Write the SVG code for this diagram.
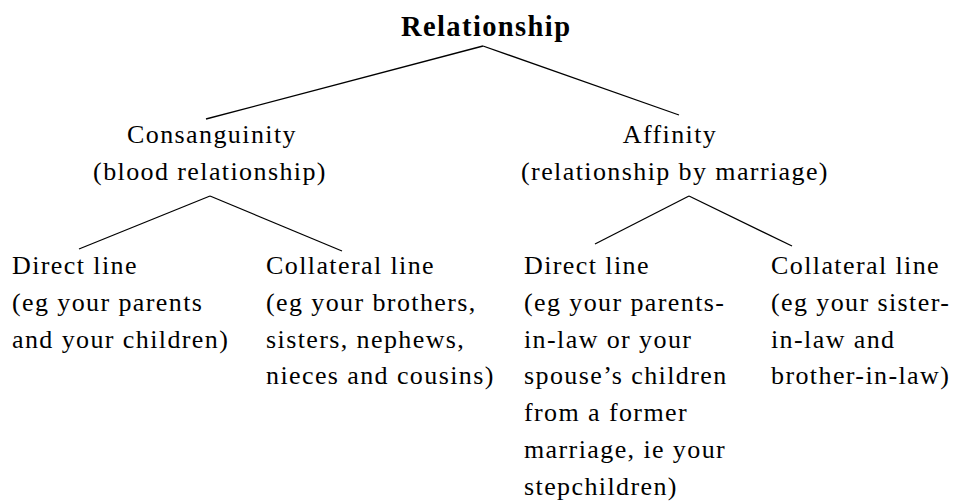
<svg xmlns="http://www.w3.org/2000/svg" width="954" height="502" viewBox="0 0 954 502">
<style>
text { font-family: "Liberation Serif", "Times New Roman", serif; font-size: 26px; letter-spacing: 1.4px; fill: #000; }
.title { font-size: 28.5px; font-weight: bold; }
.mid { text-anchor: middle; }
.conn line { stroke: #000; stroke-width: 1.3; fill: none; }
</style>
<rect width="954" height="502" fill="#fff"/>
<g class="conn" id="connectors">
<line x1="483" y1="46" x2="206" y2="119"/>
<line x1="483" y1="46" x2="679" y2="115"/>
<line x1="210" y1="196" x2="79" y2="249"/>
<line x1="210" y1="196" x2="342" y2="251"/>
<line x1="689" y1="196" x2="595" y2="244"/>
<line x1="689" y1="196" x2="792" y2="246"/>
</g>
<g id="relationship">
<text class="title" x="401" y="36">Relationship</text>
</g>
<g id="consanguinity">
<text class="mid" x="212" y="143">Consanguinity</text>
<text class="mid" x="210" y="180">(blood relationship)</text>
</g>
<g id="affinity">
<text class="mid" x="670" y="143">Affinity</text>
<text class="mid" x="675" y="180">(relationship by marriage)</text>
</g>
<g id="cons-direct">
<text x="12" y="274">Direct line</text>
<text x="12" y="310.8">(eg your parents</text>
<text x="12" y="347.6">and your children)</text>
</g>
<g id="cons-collateral">
<text x="266" y="274">Collateral line</text>
<text x="266" y="310.8">(eg your brothers,</text>
<text x="266" y="347.6">sisters, nephews,</text>
<text x="266" y="384.4">nieces and cousins)</text>
</g>
<g id="aff-direct">
<text x="524" y="274">Direct line</text>
<text x="524" y="310.8">(eg your parents-</text>
<text x="524" y="347.6">in-law or your</text>
<text x="524" y="384.4">spouse’s children</text>
<text x="524" y="421.2">from a former</text>
<text x="524" y="458">marriage, ie your</text>
<text x="524" y="494.5">stepchildren)</text>
</g>
<g id="aff-collateral">
<text x="771" y="274">Collateral line</text>
<text x="771" y="310.8">(eg your sister-</text>
<text x="771" y="347.6">in-law and</text>
<text x="771" y="384.4">brother-in-law)</text>
</g>
</svg>
